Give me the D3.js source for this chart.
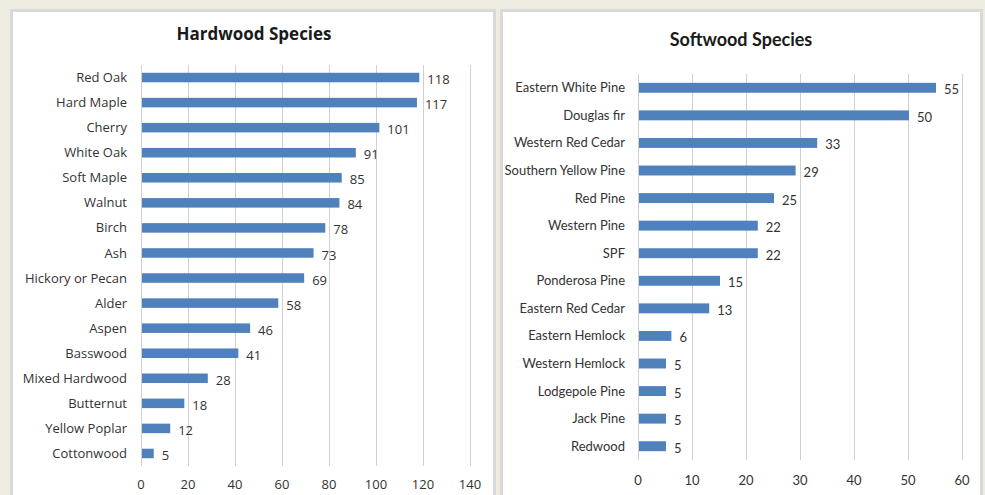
<!DOCTYPE html>
<html lang="en">
<head>
  <meta charset="UTF-8">
  <title>Hardwood and Softwood Species</title>
  <style>
    body {
      margin: 0;
      background-color: #eeebe0;
    }
    svg {
      display: block;
    }
    .panel {
      fill: #ffffff;
      stroke: #d9d9d9;
      stroke-width: 3px;
    }
    .title {
      font-weight: bold;
      fill: #1a1a1a;
      text-anchor: middle;
    }
    .grid line {
      stroke: #d0d0d0;
      stroke-width: 1px;
    }
    .bar {
      fill: #4f81bd;
    }
    .cat, .val, .tick-label {
      fill: #333333;
    }
  </style>
</head>
<body>
  <svg id="chart"></svg>

  <script src="https://d3js.org/d3.v7.min.js"></script>
  <script>
    // --- data ---
    const hardwoodSpecies = ["Red Oak", "Hard Maple", "Cherry", "White Oak", "Soft Maple", "Walnut", "Birch", "Ash",
      "Hickory or Pecan", "Alder", "Aspen", "Basswood", "Mixed Hardwood", "Butternut", "Yellow Poplar", "Cottonwood"];
    const hardwoodCounts = [118, 117, 101, 91, 85, 84, 78, 73, 69, 58, 46, 41, 28, 18, 12, 5];
    const hardwoodTicks = [0, 20, 40, 60, 80, 100, 120, 140];

    const softwoodSpecies = ["Eastern White Pine", "Douglas fir", "Western Red Cedar", "Southern Yellow Pine", "Red Pine",
      "Western Pine", "SPF", "Ponderosa Pine", "Eastern Red Cedar", "Eastern Hemlock", "Western Hemlock",
      "Lodgepole Pine", "Jack Pine", "Redwood"];
    const softwoodCounts = [55, 50, 33, 29, 25, 22, 22, 15, 13, 6, 5, 5, 5, 5];
    const softwoodTicks = [0, 10, 20, 30, 40, 50, 60];

    const width = 985;
    const height = 495;

    const svg = d3.select("#chart")
      .attr("width", width)
      .attr("height", height);

    // panel frames
    svg.append("rect").attr("class", "panel")
      .attr("x", 11.5).attr("y", 10.5).attr("width", 483).attr("height", 500);
    svg.append("rect").attr("class", "panel")
      .attr("x", 501.5).attr("y", 10.5).attr("width", 480).attr("height", 500);

    function drawPanel(cfg) {
      const g = svg.append("g");

      const x = d3.scaleLinear()
        .domain([0, cfg.ticks[cfg.ticks.length - 1]])
        .range([cfg.left, cfg.right]);

      const y = d3.scaleBand()
        .domain(cfg.species)
        .range([cfg.top, cfg.bottom])
        .paddingInner(cfg.pad)
        .paddingOuter(cfg.pad / 2);

      g.append("text")
        .attr("class", "title")
        .attr("x", cfg.titleX)
        .attr("y", cfg.titleY)
        .style("font-family", cfg.font)
        .style("font-size", cfg.titleSize + "px")
        .text(cfg.title);

      // vertical gridlines
      g.append("g")
        .attr("class", "grid")
        .selectAll("line")
        .data(cfg.ticks)
        .join("line")
        .attr("x1", d => Math.round(x(d)) + 0.5)
        .attr("x2", d => Math.round(x(d)) + 0.5)
        .attr("y1", cfg.top)
        .attr("y2", cfg.bottom);

      g.selectAll(".tick-label")
        .data(cfg.ticks)
        .join("text")
        .attr("class", "tick-label")
        .attr("x", d => x(d))
        .attr("y", cfg.tickY)
        .attr("text-anchor", "middle")
        .style("font-family", cfg.font)
        .style("font-size", cfg.fontSize + "px")
        .text(d => d);

      const rows = cfg.species.map((s, i) => ({ name: s, value: cfg.values[i] }));

      g.selectAll(".bar")
        .data(rows)
        .join("rect")
        .attr("class", "bar")
        .attr("x", x(0) + 1)
        .attr("y", d => y(d.name))
        .attr("width", d => x(d.value) - x(0))
        .attr("height", y.bandwidth());

      g.selectAll(".cat")
        .data(rows)
        .join("text")
        .attr("class", "cat")
        .attr("x", cfg.labelX)
        .attr("y", d => y(d.name) + y.bandwidth() / 2)
        .attr("dy", "0.35em")
        .attr("text-anchor", "end")
        .style("font-family", cfg.font)
        .style("font-size", cfg.fontSize + "px")
        .text(d => d.name);

      g.selectAll(".val")
        .data(rows)
        .join("text")
        .attr("class", "val")
        .attr("x", d => x(d.value) + cfg.valGap)
        .attr("y", d => y(d.name) + y.bandwidth() / 2 + 2)
        .attr("dy", "0.35em")
        .style("font-family", cfg.font)
        .style("font-size", cfg.fontSize + "px")
        .text(d => d.value);
    }

    drawPanel({
      title: "Hardwood Species",
      species: hardwoodSpecies,
      values: hardwoodCounts,
      ticks: hardwoodTicks,
      left: 141, right: 470,
      top: 65, bottom: 466,
      pad: 0.62,
      labelX: 127,
      valGap: 9,
      tickY: 489,
      titleX: 254, titleY: 40,
      titleSize: 17,
      fontSize: 13,
      font: "'Open Sans', sans-serif"
    });

    drawPanel({
      title: "Softwood Species",
      species: softwoodSpecies,
      values: softwoodCounts,
      ticks: softwoodTicks,
      left: 638, right: 962,
      top: 74, bottom: 460,
      pad: 0.64,
      labelX: 625,
      valGap: 9,
      tickY: 485,
      titleX: 741, titleY: 46,
      titleSize: 18,
      fontSize: 13,
      font: "'Lato', sans-serif"
    });
  </script>
</body>
</html>
